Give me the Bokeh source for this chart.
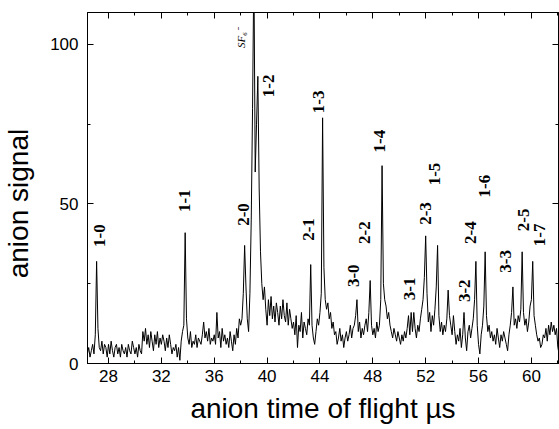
import numpy as np
from bokeh.plotting import figure
from bokeh.models import LinearAxis, SingleIntervalTicker, Range1d, ColumnDataSource
from bokeh.core.properties import value
from bokeh.embed import file_html
from bokeh.resources import INLINE

# ---- data ----
time_start = 26.4   # µs, first sample
time_step = 0.1     # µs, sample spacing
signal = [
    3, 5, 2, 4, 6, 3,                         # 26.4-26.9
    9, 32, 11, 5, 4, 7, 3, 6, 5, 2,           # 27
    6, 3, 7, 4, 2, 5, 6, 3, 5, 2,             # 28
    6, 4, 3, 5, 2, 6, 4, 3, 7, 5,             # 29
    3, 5, 2, 6, 4, 3, 10, 7, 11, 6,           # 30
    9, 5, 10, 7, 4, 9, 6, 10, 5, 8,           # 31
    6, 9, 7, 4, 8, 5, 9, 6, 3, 5,             # 32
    4, 6, 2, 5, 1, 7, 10, 12, 41, 14,         # 33
    8, 6, 10, 5, 7, 6, 9, 5, 8, 7,            # 34
    6, 9, 13, 8, 10, 7, 11, 6, 8, 7,          # 35
    9, 6, 16, 8, 10, 5, 11, 7, 9, 6,          # 36
    8, 5, 10, 7, 4, 9, 6, 11, 8, 14,          # 37
    12, 14, 22, 37, 24, 14, 10, 22, 45, 80,   # 38
    125, 60, 75, 90, 55, 35, 25, 20, 24, 17,  # 39
    12, 20, 15, 21, 14, 18, 13, 19, 16, 12,   # 40
    18, 14, 20, 15, 13, 19, 12, 17, 14, 11,   # 41
    13, 9, 15, 5, 12, 10, 16, 8, 13, 11,      # 42
    9, 14, 12, 31, 12, 8, 6, 10, 14, 12,      # 43
    16, 22, 77, 30, 20, 17, 19, 14, 16, 11,   # 44
    13, 9, 10, 6, 8, 11, 7, 9, 5, 8,          # 45
    10, 7, 9, 12, 8, 11, 12, 15, 20, 10,      # 46
    13, 8, 11, 9, 12, 14, 10, 16, 26, 12,     # 47
    9, 11, 8, 13, 10, 12, 20, 62, 25, 20,     # 48
    18, 14, 16, 12, 10, 8, 11, 9, 7, 10,      # 49
    8, 6, 9, 7, 10, 8, 11, 15, 9, 16,         # 50
    10, 16, 11, 8, 12, 10, 14, 17, 20, 27,    # 51
    40, 22, 13, 16, 10, 15, 12, 17, 24, 37,   # 52
    15, 10, 13, 9, 12, 10, 14, 23, 15, 12,    # 53
    9, 15, 10, 6, 9, 7, 11, 5, 9, 16,         # 54
    8, 4, 10, 12, 8, 11, 14, 20, 32, 12,      # 55
    6, 3, 9, 12, 18, 35, 15, 10, 12, 8,       # 56
    10, 7, 9, 6, 11, 8, 5, 9, 7, 10,          # 57
    8, 6, 4, 9, 12, 16, 24, 12, 14, 11,       # 58
    15, 13, 17, 35, 16, 12, 14, 10, 13, 18,   # 59
    20, 32, 15, 12, 9, 7, 8, 5, 6, 9,         # 60
    8, 11, 7, 12, 9, 13, 10, 12, 9, 11,       # 61
    5, 3,                                     # 62.0-62.1
]

peak_labels = ["1-0", "1-1", "2-0", "1-2", "2-1", "1-3", "3-0", "2-2", "1-4",
               "3-1", "2-3", "1-5", "3-2", "2-4", "1-6", "3-3", "2-5", "1-7"]
label_time = [27.34, 33.76, 38.18, 40.09, 43.13, 43.92, 46.55, 47.39, 48.53,
              50.8, 51.95, 52.64, 54.9, 55.38, 56.44, 58.04, 59.4, 60.62]
label_signal = [40.1, 51, 46.7, 87, 42, 82, 27.5, 41, 69.7,
                23.4, 47, 59.4, 22.8, 41, 55.6, 32, 45, 40.3]

sf6_text = ["SF\u2086\u207b"]
sf6_time = [38.0]
sf6_signal = [102]

x_tick_interval = 4
y_tick_interval = 50

time = [round(time_start + i * time_step, 2) for i in range(len(signal))]

# ---- figure ----
p = figure(width=559, height=429, output_backend="svg", toolbar_location=None,
           x_range=Range1d(26.41, 62.05), y_range=Range1d(0, 110),
           min_border_left=87, min_border_right=1, min_border_top=12,
           min_border_bottom=66)
p.background_fill_color = "white"
p.border_fill_color = "white"
p.outline_line_color = "black"
p.outline_line_width = 1
p.xgrid.visible = False
p.ygrid.visible = False

nb = "\u00a0"

def style_axis(ax, show_labels):
    ax.axis_line_color = "black"
    ax.major_tick_line_color = "black"
    ax.minor_tick_line_color = "black"
    ax.major_tick_in = 6
    ax.major_tick_out = 0
    ax.minor_tick_in = 3
    ax.minor_tick_out = 0
    if show_labels:
        ax.major_label_text_font = "Liberation Sans"
        ax.major_label_text_font_size = "17px"
        ax.major_label_text_color = "black"
        ax.axis_label_text_font = "Liberation Sans"
        ax.axis_label_text_font_size = "28px"
        ax.axis_label_text_font_style = "normal"
        ax.axis_label_text_color = "black"
    else:
        ax.major_label_text_font_size = "1px"
        ax.major_label_text_color = None
        ax.major_label_standoff = 0

p.xaxis.ticker = SingleIntervalTicker(interval=x_tick_interval, num_minor_ticks=2)
p.yaxis.ticker = SingleIntervalTicker(interval=y_tick_interval, num_minor_ticks=2)
style_axis(p.xaxis[0], True)
style_axis(p.yaxis[0], True)
p.xaxis.axis_label = "anion time of flight \u00b5s"
p.yaxis.axis_label = "anion signal" + nb * 4
p.xaxis.major_label_standoff = 6
p.yaxis.major_label_standoff = 9
p.xaxis.axis_label_standoff = 8
p.yaxis.axis_label_standoff = 13

top = LinearAxis(ticker=SingleIntervalTicker(interval=x_tick_interval, num_minor_ticks=2))
style_axis(top, False)
p.add_layout(top, "above")
right = LinearAxis(ticker=SingleIntervalTicker(interval=y_tick_interval, num_minor_ticks=2))
style_axis(right, False)
p.add_layout(right, "right")

# ---- spectrum ----
p.line(time, signal, line_color="black", line_width=1)

# ---- peak labels ----
lab_src = ColumnDataSource(dict(x=label_time, y=label_signal, t=peak_labels))
p.text(x="x", y="y", text="t", source=lab_src, angle=np.pi / 2,
       text_align="center", text_baseline="middle",
       text_font=value("Liberation Serif"), text_font_style="bold",
       text_font_size="17px", text_color="black")

sf_src = ColumnDataSource(dict(x=sf6_time, y=sf6_signal, t=sf6_text))
p.text(x="x", y="y", text="t", source=sf_src, angle=np.pi / 2,
       text_align="center", text_baseline="middle",
       text_font=value("Liberation Serif"), text_font_style="italic",
       text_font_size="11px", text_color="black")

open("out.html", "w").write(file_html(p, INLINE))
